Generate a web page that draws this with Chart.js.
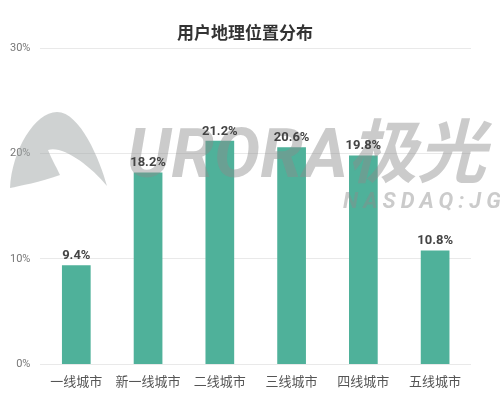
<!DOCTYPE html>
<html><head><meta charset="utf-8">
<script src="https://cdn.jsdelivr.net/npm/chart.js@4"></script>
<style>html,body{margin:0;padding:0;background:#fff}#wrap{width:500px;height:396px;position:relative}</style>
</head><body><div id="wrap"><canvas id="c" width="500" height="396"></canvas></div>
<script>
const categories = ['一线城市','新一线城市','二线城市','三线城市','四线城市','五线城市'];
const values = [9.4, 18.2, 21.2, 20.6, 19.8, 10.8];
const yTicks = [0, 10, 20, 30];
const titleText = '用户地理位置分布';
const FONT = "Roboto, 'Noto Sans CJK SC', sans-serif";

const titlePlugin = {
  id: 'centerTitle',
  afterDraw(chart) {
    const ctx = chart.ctx;
    ctx.save();
    ctx.font = "bold 17px " + FONT;
    ctx.fillStyle = '#333';
    ctx.textAlign = 'center';
    ctx.textBaseline = 'middle';
    ctx.fillText(titleText, chart.width / 2 - 5, 35);
    ctx.restore();
  }
};
const watermark = {
  id: 'watermark',
  afterDatasetsDraw(chart) {
    const ctx = chart.ctx;
    ctx.save();
    ctx.fillStyle = 'rgba(160,166,166,0.5)';
    ctx.beginPath();
    ctx.moveTo(10, 188);
    ctx.bezierCurveTo(12, 150, 35, 112, 57, 112);
    ctx.bezierCurveTo(80, 112, 100, 160, 107, 186);
    ctx.bezierCurveTo(90, 165, 62, 145, 48, 150);
    ctx.bezierCurveTo(52, 160, 58, 170, 60, 175);
    ctx.bezierCurveTo(40, 182, 20, 186, 10, 188);
    ctx.closePath();
    ctx.fill();
    ctx.fillStyle = 'rgba(140,140,140,0.45)';
    ctx.font = "italic bold 69px " + FONT;
    ctx.textBaseline = 'alphabetic';
    ctx.textAlign = 'left';
    ctx.fillText('URORA极光', 127, 177);
    ctx.font = "italic bold 22px " + FONT;
    if ('letterSpacing' in ctx) ctx.letterSpacing = '5px';
    ctx.fillText('NASDAQ:JG', 343, 208);
    ctx.restore();
  }
};
const labelPlugin = {
  id: 'barLabels',
  afterDatasetsDraw(chart) {
    const ctx = chart.ctx;
    const meta = chart.getDatasetMeta(0);
    ctx.save();
    ctx.font = "bold 13px " + FONT;
    ctx.fillStyle = '#444';
    ctx.textAlign = 'center';
    ctx.textBaseline = 'bottom';
    meta.data.forEach((bar, i) => {
      ctx.fillText(values[i].toFixed(1) + '%', bar.x, bar.y - 3);
    });
    ctx.restore();
  }
};

new Chart(document.getElementById('c'), {
  type: 'bar',
  data: {
    labels: categories,
    datasets: [{
      data: values,
      backgroundColor: '#4fb19a',
      categoryPercentage: 0.8,
      barPercentage: 0.5
    }]
  },
  options: {
    responsive: false,
    animation: false,
    devicePixelRatio: 1,
    layout: { padding: { left: 0, right: 29, top: 48, bottom: -6 } },
    plugins: {
      legend: { display: false },
      tooltip: { enabled: false },
      title: { display: false }
    },
    scales: {
      y: {
        min: 0, max: 30,
        afterBuildTicks(axis) { axis.ticks = yTicks.map(v => ({ value: v })); },
        ticks: { callback: v => v + '%', color: '#777', font: { size: 11, family: FONT }, padding: 10 },
        grid: { color: '#e9e9e9', drawTicks: false },
        border: { display: false }
      },
      x: {
        ticks: { color: '#555', font: { size: 13, family: FONT }, padding: 11, maxRotation: 0, minRotation: 0, autoSkip: false },
        grid: { display: false, drawTicks: false },
        border: { display: false }
      }
    }
  },
  plugins: [watermark, labelPlugin, titlePlugin]
});
</script></body></html>
